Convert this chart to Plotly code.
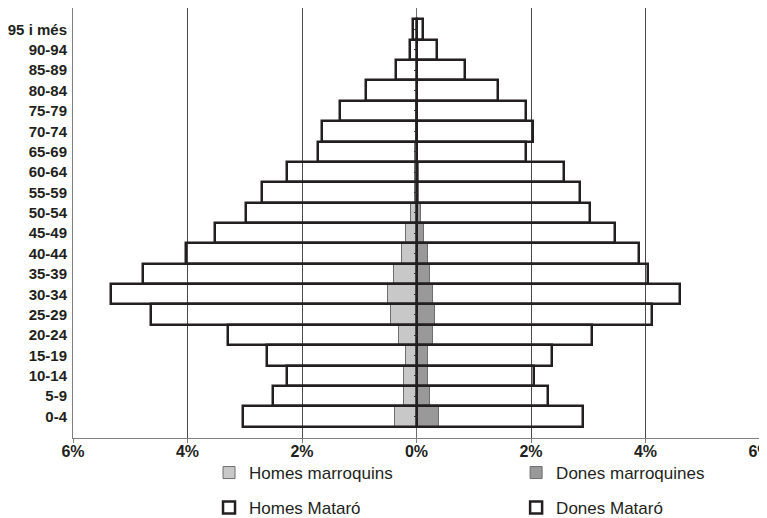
import plotly.graph_objects as go

# age groups, bottom to top
edats = ["0-4", "5-9", "10-14", "15-19", "20-24", "25-29", "30-34", "35-39",
         "40-44", "45-49", "50-54", "55-59", "60-64", "65-69", "70-74",
         "75-79", "80-84", "85-89", "90-94", "95 i més"]

# % of population (men are plotted to the left)
homes_mataro = [3.03, 2.50, 2.27, 2.62, 3.30, 4.64, 5.33, 4.77, 4.02, 3.52,
                2.98, 2.70, 2.26, 1.72, 1.65, 1.34, 0.89, 0.35, 0.12, 0.06]
dones_mataro = [2.91, 2.30, 2.06, 2.37, 3.07, 4.11, 4.61, 4.04, 3.89, 3.46,
                3.03, 2.85, 2.58, 1.91, 2.04, 1.92, 1.42, 0.85, 0.35, 0.12]
homes_marroquins = [0.38, 0.22, 0.21, 0.18, 0.31, 0.45, 0.49, 0.40, 0.26, 0.19,
                    0.10, 0.03, 0.03, 0.03, 0.01, 0.01, 0.0, 0.0, 0.0, 0.0]
dones_marroquines = [0.40, 0.24, 0.20, 0.20, 0.28, 0.32, 0.28, 0.24, 0.20, 0.13,
                     0.08, 0.04, 0.04, 0.02, 0.01, 0.01, 0.0, 0.0, 0.0, 0.0]

tick_vals = [-6, -4, -2, 0, 2, 4, 6]
tick_text = ["6%", "4%", "2%", "0%", "2%", "4%", "6%"]

ink = "#231f20"
fnt = "Liberation Sans, Arial, Helvetica, sans-serif"

fig = go.Figure()

fig.add_trace(go.Bar(y=edats, x=[-v for v in homes_marroquins], orientation="h",
                     name="Homes marroquins", legend="legend",
                     marker=dict(color="#c8c8c8", line=dict(color="#6e6e6e", width=1))))
fig.add_trace(go.Bar(y=edats, x=dones_marroquines, orientation="h",
                     name="Dones marroquines", legend="legend2",
                     marker=dict(color="#999999", line=dict(color="#6e6e6e", width=1))))
fig.add_trace(go.Bar(y=edats, x=[-v for v in homes_mataro], orientation="h",
                     name="Homes Mataró", legend="legend3",
                     marker=dict(color="rgba(255,255,255,0)", line=dict(color=ink, width=2.5))))
fig.add_trace(go.Bar(y=edats, x=dones_mataro, orientation="h",
                     name="Dones Mataró", legend="legend4",
                     marker=dict(color="rgba(255,255,255,0)", line=dict(color=ink, width=2.5))))
# dummy trace so the centre axis with ticks gets drawn
fig.add_trace(go.Scatter(y=edats, x=[0] * len(edats), yaxis="y2", mode="lines",
                         line=dict(width=0), showlegend=False, hoverinfo="skip"))

leg_common = dict(xanchor="left", yanchor="middle",
                  font=dict(family=fnt, size=17, color=ink),
                  bgcolor="rgba(0,0,0,0)", itemclick=False)

# the page body adds 8px around the figure, so the figure is 8px smaller
fig.update_layout(
    width=759, height=510,
    margin=dict(l=65, r=7, t=0, b=80, autoexpand=False),
    paper_bgcolor="white", plot_bgcolor="white",
    barmode="overlay", bargap=0,
    showlegend=True,
    legend=dict(x=0.198, y=-0.0814, **leg_common),
    legend2=dict(x=0.645, y=-0.0814, **leg_common),
    legend3=dict(x=0.198, y=-0.1628, **leg_common),
    legend4=dict(x=0.645, y=-0.1628, **leg_common),
    xaxis=dict(range=[-6, 6], tickvals=tick_vals, ticktext=tick_text,
               automargin=False, ticklabeloverflow="allow",
               showgrid=True, gridcolor="#4a4a4a", gridwidth=1,
               zeroline=True, zerolinecolor="#6e6e6e", zerolinewidth=1,
               showline=True, linecolor="#808080", linewidth=1, mirror=True,
               ticks="outside", ticklen=4, tickcolor="#808080",
               ticklabelstandoff=-5,
               tickfont=dict(family=fnt, size=16, weight="bold", color=ink)),
    yaxis=dict(categoryorder="array", categoryarray=edats, automargin=False,
               showgrid=False, zeroline=False,
               showline=True, linecolor="#808080", linewidth=1, mirror="all",
               ticks="", ticklabelstandoff=2,
               tickfont=dict(family=fnt, size=15, weight="bold", color=ink)),
    yaxis2=dict(overlaying="y", matches="y", anchor="free", position=0.5,
                automargin=False,
                showline=False, showgrid=False, zeroline=False,
                showticklabels=False, ticks="outside", ticklen=3,
                tickcolor="#333333", side="left"),
    # right frame edge
    shapes=[dict(type="line", xref="paper", yref="paper", x0=1, x1=1, y0=0, y1=1,
                 line=dict(color="#808080", width=1))],
)

fig.write_html("out.html")
